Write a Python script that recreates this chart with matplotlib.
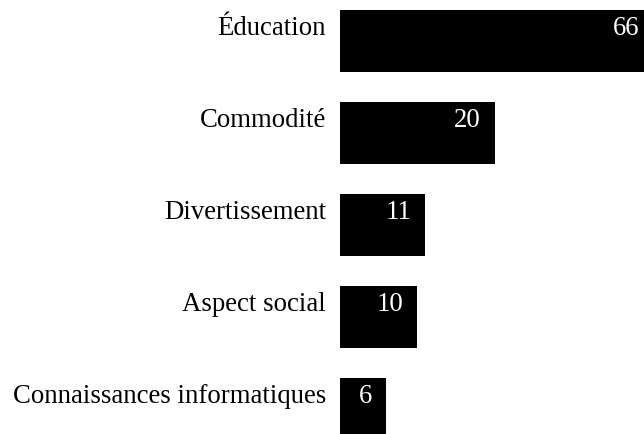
import matplotlib
matplotlib.use("Agg")
import matplotlib.pyplot as plt

categories = ["Éducation", "Commodité", "Divertissement", "Aspect social", "Connaissances informatiques"]
values = [66, 20, 11, 10, 6]

W, H, DPI = 6.44, 4.35, 100
fig = plt.figure(figsize=(W, H), dpi=DPI)
x0 = 340 / 644
ax = fig.add_axes([x0, 0, 1 - x0, 1])

px_per_unit = 7.735
xmax = (644 - 340) / px_per_unit
spacing = 92.0
first_center = 42.0
ytop = -first_center / spacing
ybot = (435 - first_center) / spacing

pos = list(range(len(categories)))
ax.barh(pos, values, height=62 / spacing, color="black", left=0)
ax.set_xlim(0, xmax)
ax.set_ylim(ybot, ytop)
ax.axis("off")

font = "Liberation Serif"
fs = 19.3
base_off = 7 / spacing
for i, (c, v) in enumerate(zip(categories, values)):
    ax.text(-14 / px_per_unit, i - base_off, c, ha="right", va="baseline",
            fontsize=fs, family=font, color="black", clip_on=False)
    lx = min(v - 14 / px_per_unit, xmax - 5 / px_per_unit)
    ax.text(lx, i - base_off, str(v), ha="right", va="baseline",
            fontsize=fs, family=font, color="white")

fig.savefig("out.png", dpi=DPI)
